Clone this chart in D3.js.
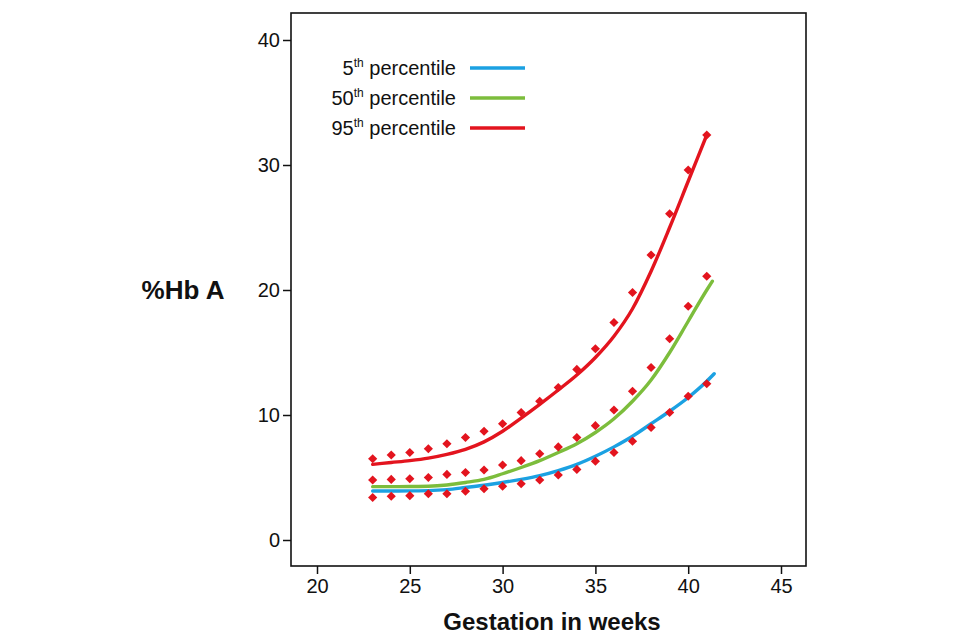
<!DOCTYPE html>
<html>
<head>
  <meta charset="utf-8">
  <title>%Hb A by gestation</title>
  <script src="https://d3js.org/d3.v7.min.js"></script>
  <style>
    body { margin: 0; background: #fff; }
    text { font-family: Arial, 'Liberation Sans', sans-serif; fill: #111; }
  </style>
</head>
<body>
<script>
// observed points (red diamonds), weeks 23..41
var weeks = [23, 24, 25, 26, 27, 28, 29, 30, 31, 32, 33, 34, 35, 36, 37, 38, 39, 40, 41];
var obs95 = [6.5, 6.8, 7.0, 7.3, 7.7, 8.2, 8.7, 9.3, 10.2, 11.1, 12.2, 13.65, 15.3, 17.4, 19.8, 22.8, 26.1, 29.6, 32.4];
var obs50 = [4.8, 4.85, 4.9, 5.0, 5.25, 5.4, 5.6, 6.0, 6.35, 6.9, 7.45, 8.2, 9.15, 10.4, 11.9, 13.8, 16.1, 18.7, 21.1];
var obs5  = [3.4, 3.5, 3.55, 3.7, 3.7, 3.9, 4.1, 4.3, 4.5, 4.8, 5.2, 5.65, 6.3, 7.0, 7.9, 9.0, 10.2, 11.5, 12.5];

// fitted percentile curves
var fit95Weeks = [23, 24, 25, 26, 27, 28, 29, 30, 31, 32, 33, 34, 35, 36, 37, 38, 39, 40, 41];
var fit95 = [6.05, 6.2, 6.35, 6.55, 6.85, 7.25, 7.85, 8.7, 9.75, 10.85, 12.0, 13.2, 14.6, 16.3, 18.5, 21.5, 25.0, 28.7, 32.4];
var fit50Weeks = [23, 24, 25, 26, 27, 28, 29, 30, 31, 32, 33, 34, 35, 36, 37, 38, 39, 40, 41, 41.3];
var fit50 = [4.27, 4.27, 4.28, 4.3, 4.4, 4.6, 4.85, 5.3, 5.8, 6.35, 7.0, 7.7, 8.6, 9.7, 11.1, 12.8, 15.0, 17.5, 20.0, 20.7];
var fit5Weeks = [23, 24, 25, 26, 27, 28, 29, 30, 31, 32, 33, 34, 35, 36, 37, 38, 39, 40, 41, 41.4];
var fit5 = [3.92, 3.92, 3.93, 3.95, 4.03, 4.2, 4.38, 4.6, 4.85, 5.15, 5.55, 6.05, 6.7, 7.45, 8.3, 9.3, 10.3, 11.4, 12.7, 13.3];

var xTicks = [20, 25, 30, 35, 40, 45];
var yTicks = [0, 10, 20, 30, 40];
var legendLabels = [["5", "th percentile"], ["50", "th percentile"], ["95", "th percentile"]];
var colors = ["#1ba1e2", "#7cbd3c", "#e3141e"];

var width = 960, height = 640;
var svg = d3.select("body").append("svg")
  .attr("width", width)
  .attr("height", height);

var x = d3.scaleLinear().domain([20, 45]).range([317, 781]);
var y = d3.scaleLinear().domain([0, 40]).range([540, 40]);

var frame = { left: 291, right: 806, top: 13, bottom: 566 };

// plot frame
svg.append("rect")
  .attr("x", frame.left).attr("y", frame.top)
  .attr("width", frame.right - frame.left)
  .attr("height", frame.bottom - frame.top)
  .attr("fill", "none").attr("stroke", "#111").attr("stroke-width", 1.6);

// y axis ticks
var yAxis = svg.append("g")
  .attr("transform", "translate(" + frame.left + ",0)")
  .call(d3.axisLeft(y).tickValues(yTicks).tickSize(8).tickPadding(3));
yAxis.select(".domain").remove();
yAxis.selectAll(".tick line").attr("stroke", "#111").attr("stroke-width", 1.5);
yAxis.selectAll(".tick text").style("font-size", "20px").attr("fill", "#111");

// x axis ticks
var xAxis = svg.append("g")
  .attr("transform", "translate(0," + frame.bottom + ")")
  .call(d3.axisBottom(x).tickValues(xTicks).tickSize(8).tickPadding(5));
xAxis.select(".domain").remove();
xAxis.selectAll(".tick line").attr("stroke", "#111").attr("stroke-width", 1.5);
xAxis.selectAll(".tick text").style("font-size", "20px").attr("fill", "#111");

// axis titles
svg.append("text")
  .attr("x", 552).attr("y", 630)
  .attr("text-anchor", "middle")
  .style("font-size", "24px").style("font-weight", "bold")
  .text("Gestation in weeks");
svg.append("text")
  .attr("x", 183).attr("y", 299)
  .attr("text-anchor", "middle")
  .style("font-size", "26px").style("font-weight", "bold")
  .text("%Hb A");

// fitted curves
var line = d3.line()
  .x(function (d) { return x(d[0]); })
  .y(function (d) { return y(d[1]); })
  .curve(d3.curveMonotoneX);

var fits = [
  d3.zip(fit5Weeks, fit5),
  d3.zip(fit50Weeks, fit50),
  d3.zip(fit95Weeks, fit95)
];
svg.append("g").selectAll("path")
  .data(fits)
  .enter()
  .append("path")
  .attr("d", line)
  .attr("fill", "none")
  .attr("stroke", function (d, i) { return colors[i]; })
  .attr("stroke-width", 3.4)
  .attr("stroke-linecap", "round");

// observed points as diamonds
var pts = [];
[obs5, obs50, obs95].forEach(function (arr) {
  arr.forEach(function (v, i) { pts.push([weeks[i], v]); });
});
svg.append("g").selectAll("path")
  .data(pts)
  .enter()
  .append("path")
  .attr("d", "M0,-4.6L4.6,0L0,4.6L-4.6,0Z")
  .attr("transform", function (d) { return "translate(" + x(d[0]) + "," + y(d[1]) + ")"; })
  .attr("fill", "#e3141e");

// legend
var legend = svg.append("g");
legendLabels.forEach(function (lab, i) {
  var ly = 68 + i * 30;
  var t = legend.append("text")
    .attr("x", 456).attr("y", ly + 7)
    .attr("text-anchor", "end")
    .style("font-size", "20px");
  t.append("tspan").text(lab[0]);
  t.append("tspan").attr("dy", -8).style("font-size", "12px").text("th");
  t.append("tspan").attr("dy", 8).text(" percentile");
  legend.append("line")
    .attr("x1", 470).attr("x2", 525)
    .attr("y1", ly).attr("y2", ly)
    .attr("stroke", colors[i]).attr("stroke-width", 3.4);
});
</script>
</body>
</html>
